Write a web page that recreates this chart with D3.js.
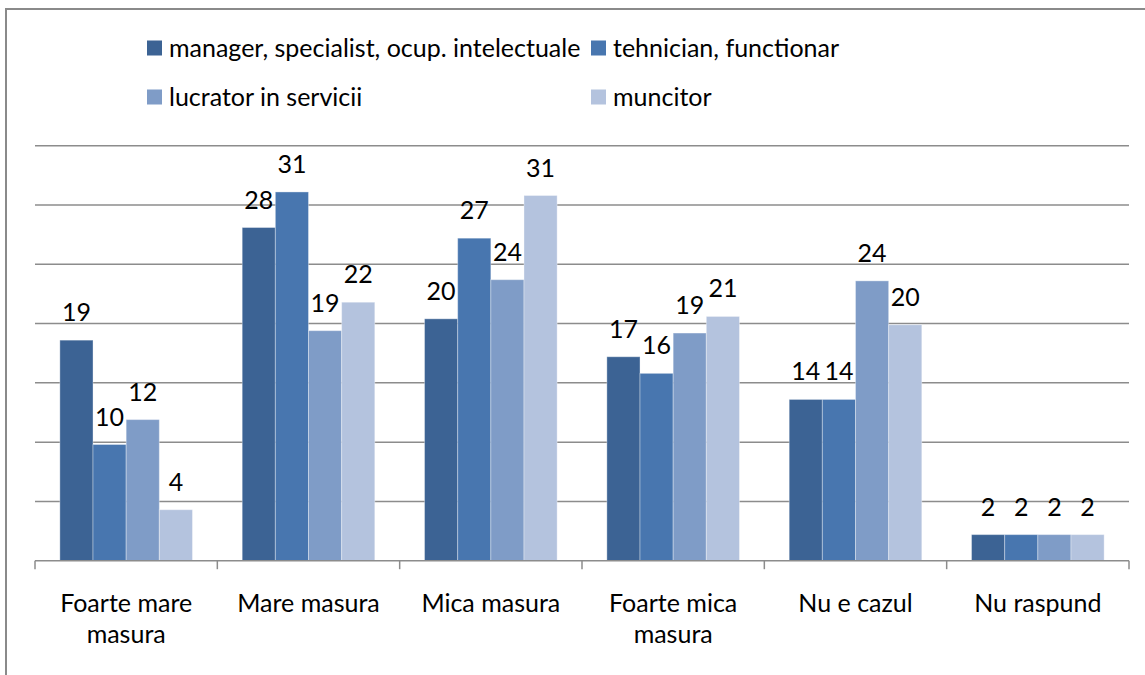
<!DOCTYPE html>
<html><head><meta charset="utf-8">
<script src="https://cdn.jsdelivr.net/npm/d3@7"></script>
<style>
body{margin:0;background:#fff}
text{font-family:Lato,'Open Sans',sans-serif;fill:#000}
</style>
</head><body>
<svg id="chart" width="1145" height="675"></svg>
<script>
const categories = ["Foarte mare masura", "Mare masura", "Mica masura", "Foarte mica masura", "Nu e cazul", "Nu raspund"];
const seriesNames = ["manager, specialist, ocup. intelectuale", "tehnician, functionar", "lucrator in servicii", "muncitor"];
const managerValues   = [18.6, 28.1, 20.4, 17.2, 13.6, 2.2];
const tehnicianValues = [9.8, 31.1, 27.2, 15.8, 13.6, 2.2];
const lucratorValues  = [11.9, 19.4, 23.7, 19.2, 23.6, 2.2];
const muncitorValues  = [4.3, 21.8, 30.8, 20.6, 19.9, 2.2];
const gridValues = [5, 10, 15, 20, 25, 30, 35];
const colors = ["#3c6394", "#4876af", "#7f9cc7", "#b4c3de"];

(function () {
const seriesValues = [managerValues, tehnicianValues, lucratorValues, muncitorValues];
const FS = 25;
const svg = d3.select("#chart");

// frame
svg.append("rect").attr("x", 6).attr("y", 9).attr("width", 1300).attr("height", 800)
  .attr("fill", "none").attr("stroke", "#8a8a8a").attr("stroke-width", 2);

const pLeft = 35, pRight = 1129, pTop = 145.7, pBottom = 560.7;
const y = d3.scaleLinear().domain([0, 35]).range([pBottom, pTop]);
const xCat = d3.scaleBand().domain(categories).range([pLeft, pRight]).padding(0);
const x = d3.scaleBand().domain(categories).range([pLeft, pRight])
  .paddingInner(1.5 / 5.5).paddingOuter(0.75 / 5.5);
const xs = d3.scaleBand().domain(seriesNames).range([0, x.bandwidth()]);

// gridlines
svg.append("g").selectAll("line").data(gridValues).join("line")
  .attr("x1", pLeft).attr("x2", pRight)
  .attr("y1", d => y(d)).attr("y2", d => y(d))
  .attr("stroke", "#8c8c8c").attr("stroke-width", 1.5);

// bars
const rows = [];
categories.forEach((c, ci) => seriesNames.forEach((s, si) =>
  rows.push({c, s, si, v: seriesValues[si][ci]})));

svg.append("g").selectAll("rect").data(rows).join("rect")
  .attr("x", d => x(d.c) + xs(d.s))
  .attr("y", d => y(d.v))
  .attr("width", xs.bandwidth())
  .attr("height", d => y(0) - y(d.v))
  .attr("fill", d => colors[d.si])
  .attr("stroke", "#ffffff").attr("stroke-opacity", 0.35).attr("stroke-width", 1);

// data labels
svg.append("g").selectAll("text").data(rows).join("text")
  .attr("x", d => x(d.c) + xs(d.s) + xs.bandwidth() / 2)
  .attr("y", d => y(d.v) - 19)
  .attr("text-anchor", "middle")
  .attr("font-size", FS)
  .text(d => d3.format(".0f")(d.v));

// axis
const ax = svg.append("g");
ax.append("line").attr("x1", pLeft).attr("x2", pRight).attr("y1", pBottom).attr("y2", pBottom)
  .attr("stroke", "#8c8c8c").attr("stroke-width", 1.5);
const bounds = categories.map(c => xCat(c)).concat([pRight]);
ax.selectAll("line.tick").data(bounds).join("line").attr("class", "tick")
  .attr("x1", d => d).attr("x2", d => d).attr("y1", pBottom).attr("y2", pBottom + 8.5)
  .attr("stroke", "#8c8c8c").attr("stroke-width", 1.5);

// category labels with wrap
const lab = ax.selectAll("text.cat").data(categories).join("text").attr("class", "cat")
  .attr("text-anchor", "middle").attr("font-size", FS)
  .attr("x", d => xCat(d) + xCat.bandwidth() / 2).attr("y", 612);
lab.each(function(d) {
  const t = d3.select(this);
  const words = d.split(" ");
  const lines = [];
  let cur = [];
  const probe = t.append("tspan");
  words.forEach(w => {
    const test = cur.concat([w]).join(" ");
    probe.text(test);
    if (probe.node().getComputedTextLength() > 155 && cur.length) {
      lines.push(cur.join(" ")); cur = [w];
    } else cur.push(w);
  });
  lines.push(cur.join(" "));
  probe.remove();
  lines.forEach((l, i) => t.append("tspan").attr("x", xCat(d) + xCat.bandwidth() / 2)
    .attr("dy", i === 0 ? 0 : 31).text(l));
});

// legend
const legX = [147, 591], legY = [48, 97];
const leg = svg.append("g").selectAll("g").data(seriesNames).join("g")
  .attr("transform", (d, i) => `translate(${legX[i % 2]},${legY[Math.floor(i / 2)]})`);
leg.append("rect").attr("x", 0).attr("y", -7.5).attr("width", 15).attr("height", 15)
  .attr("fill", (d, i) => colors[i]);
leg.append("text").attr("x", 22).attr("y", 8.5).attr("font-size", FS).text(d => d);
})();
</script>
</body></html>
